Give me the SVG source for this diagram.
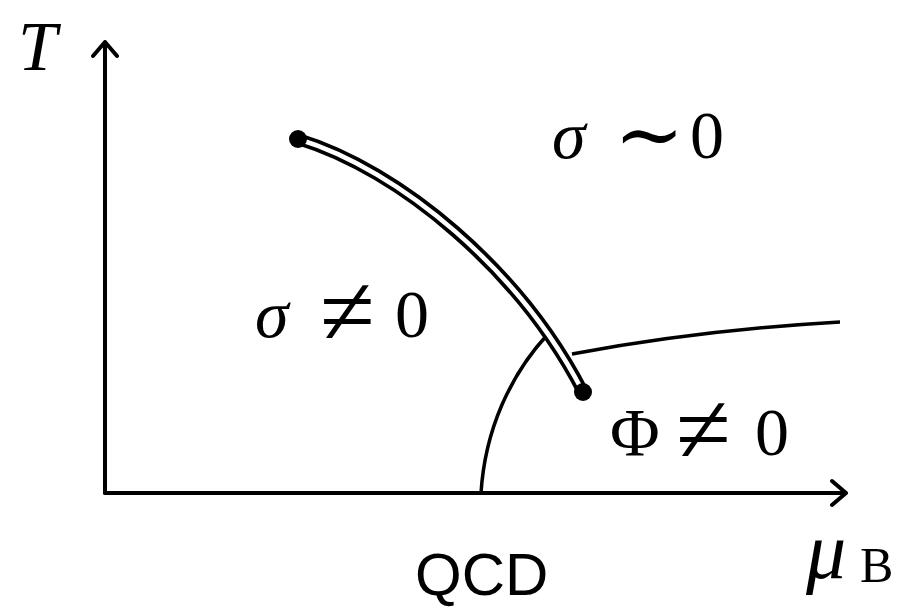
<svg xmlns="http://www.w3.org/2000/svg" width="899" height="607" viewBox="0 0 899 607">
<style>
.ax{fill:none;stroke:#000;stroke-width:4;stroke-linecap:round;stroke-linejoin:round}
.ln{fill:none;stroke:#000;stroke-width:3.5}
.m{font-family:"Liberation Serif","DejaVu Serif",serif;fill:#000}
.i{font-style:italic}
.op{font-size:100px}
</style>
<rect width="899" height="607" fill="#fff"/>
<g id="connectors">
<path class="ax" d="M105,493 V42 M93,56 L105,42 L117,56"/>
<path class="ax" d="M105,493 H846 M832,481 L846,493 L832,505"/>
<path class="ln" d="M481,493 C485,430 510,375 548,334"/>
<path class="ln" d="M572,354 Q700,330 840,322"/>
<path d="M298,139 C400,170 520,270 583,392" fill="none" stroke="#000" stroke-width="12"/>
<path d="M298,139 C400,170 520,270 583,392" fill="none" stroke="#fff" stroke-width="4.5"/>
</g>
<g id="endpoints">
<circle cx="298" cy="139" r="9"/>
<circle cx="583" cy="392" r="9"/>
</g>
<g id="labels">
<text class="m" y="158" font-size="68"><tspan class="i" x="552">σ</tspan><tspan font-size="84" x="614" dy="5">∼</tspan><tspan x="690" dy="-5">0</tspan></text>
<text class="m" y="337" font-size="68"><tspan class="i" x="255">σ</tspan><tspan class="op" x="320" dy="8">≠</tspan><tspan x="395" dy="-8">0</tspan></text>
<text class="m" y="455" font-size="68"><tspan x="610">Φ</tspan><tspan class="op" x="676" dy="8">≠</tspan><tspan x="755" dy="-8">0</tspan></text>
<text class="m i" x="18" y="70" font-size="70">T</text>
<text x="415" y="595" font-size="60" font-family="Liberation Sans,Arial,sans-serif">QCD</text>
<text class="m" y="578" font-size="80"><tspan class="i" x="806">μ</tspan><tspan font-size="50" x="860" dy="4">B</tspan></text>
</g>
</svg>
